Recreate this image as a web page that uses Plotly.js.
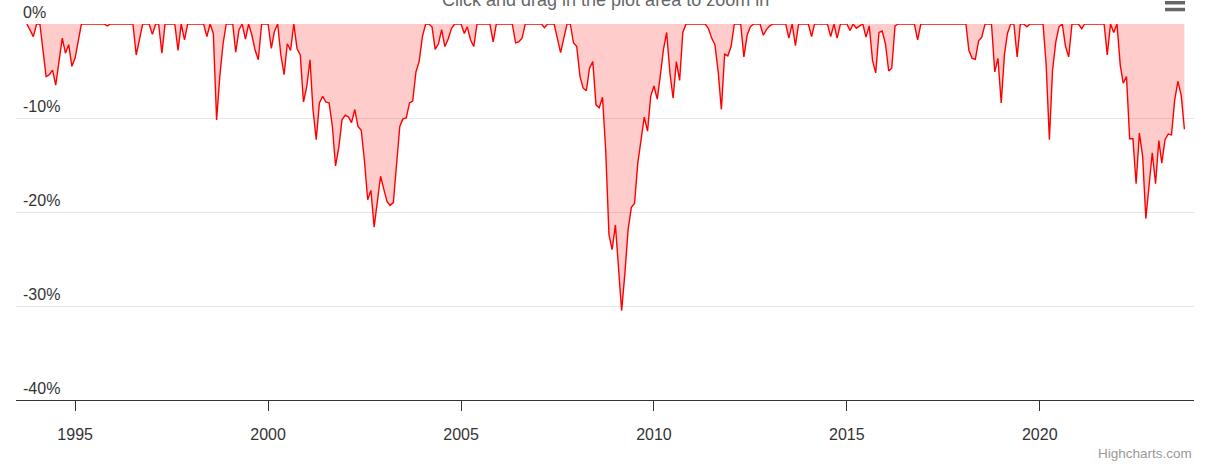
<!DOCTYPE html>
<html>
<head>
<meta charset="utf-8">
<script src="https://cdn.plot.ly/plotly-3.0.1.min.js"></script>
<style>
  html, body { margin: 0; padding: 0; background: #ffffff; }
  #chart { width: 1210px; height: 469px; }
</style>
</head>
<body>
<div id="chart"></div>
<script>
// Month-end drawdown values (percent), vertices
const dates = [
  '1993-10','1993-12','1994-01','1994-02','1994-04','1994-05','1994-06','1994-07','1994-09','1994-10',
  '1994-11','1994-12','1995-01','1995-03','1995-10','1995-11','1995-12','1996-07','1996-08','1996-10',
  '1996-12','1997-01','1997-02','1997-03','1997-04','1997-05','1997-08','1997-09','1997-10','1997-11',
  '1997-12','1998-05','1998-06','1998-07','1998-08','1998-09','1998-10','1998-11','1998-12','1999-02',
  '1999-03','1999-04','1999-05','1999-06','1999-07','1999-08','1999-09','1999-10','1999-11','2000-01',
  '2000-02','2000-03','2000-04','2000-05','2000-06','2000-07','2000-08','2000-09','2000-10','2000-11',
  '2000-12','2001-01','2001-02','2001-03','2001-04','2001-05','2001-06','2001-07','2001-08','2001-09',
  '2001-10','2001-11','2001-12','2002-01','2002-02','2002-03','2002-04','2002-05','2002-06','2002-07',
  '2002-08','2002-09','2002-10','2002-11','2002-12','2003-01','2003-02','2003-03','2003-04','2003-05',
  '2003-06','2003-07','2003-08','2003-09','2003-10','2003-11','2003-12','2004-01','2004-02','2004-03',
  '2004-04','2004-05','2004-06','2004-07','2004-08','2004-09','2004-10','2004-11','2005-01','2005-02',
  '2005-03','2005-04','2005-05','2005-06','2005-10','2005-11','2005-12','2006-05','2006-06','2006-07',
  '2006-08','2006-09','2007-02','2007-03','2007-04','2007-06','2007-07','2007-08','2007-09','2007-10',
  '2007-11','2007-12','2008-01','2008-02','2008-03','2008-04','2008-05','2008-06','2008-07','2008-08',
  '2008-09','2008-10','2008-11','2008-12','2009-01','2009-02','2009-03','2009-04','2009-05','2009-06',
  '2009-07','2009-08','2009-09','2009-10','2009-11','2009-12','2010-01','2010-02','2010-03','2010-04',
  '2010-05','2010-06','2010-07','2010-08','2010-09','2010-10','2010-11','2011-05','2011-06','2011-07',
  '2011-08','2011-09','2011-10','2011-11','2011-12','2012-01','2012-02','2012-04','2012-05','2012-06',
  '2012-07','2012-08','2012-10','2012-11','2012-12','2013-01','2013-02','2013-06','2013-07','2013-08',
  '2013-09','2013-10','2014-01','2014-02','2014-03','2014-07','2014-08','2014-09','2014-10','2014-11',
  '2015-01','2015-02','2015-03','2015-04','2015-05','2015-06','2015-07','2015-08','2015-09','2015-10',
  '2015-11','2015-12','2016-01','2016-02','2016-03','2016-04','2016-05','2016-10','2016-11','2016-12',
  '2018-02','2018-03','2018-04','2018-05','2018-06','2018-07','2018-08','2018-10','2018-11','2018-12',
  '2019-01','2019-02','2019-03','2019-04','2019-05','2019-06','2019-07','2019-08','2019-09','2019-10',
  '2020-02','2020-03','2020-04','2020-05','2020-06','2020-07','2020-08','2020-09','2020-10','2020-11',
  '2021-01','2021-02','2021-03','2021-09','2021-10','2021-11','2021-12','2022-01','2022-02','2022-03',
  '2022-04','2022-05','2022-06','2022-07','2022-08','2022-09','2022-10','2022-11','2022-12','2023-01',
  '2023-02','2023-03','2023-04','2023-05','2023-06','2023-07','2023-08','2023-09','2023-10'
];
const drawdown = [
  0, -1.35, 0, 0, -5.6, -5.4, -4.9, -6.5, -1.5, -3.1,
  -2.2, -4.5, -3.6, 0, 0, -0.2, 0, 0, -3.3, 0,
  0, -1.1, 0, 0, -3.1, 0, 0, -2.8, 0, -1.7,
  0, 0, -1.35, 0, -1.0, -10.2, -5.6, -2.1, 0, 0,
  -3.0, -0.6, 0, -1.6, 0, -1.2, -2.8, -3.8, 0, 0,
  -2.6, -0.8, 0, -3.3, -5.4, -2.1, -2.8, 0, -2.6, -3.3,
  -8.3, -6.7, -3.8, -9.1, -12.3, -8.4, -7.7, -8.3, -8.4, -10.9,
  -15.1, -13.1, -10.2, -9.7, -9.9, -10.5, -9.1, -10.9, -11.3, -14.5,
  -18.7, -17.7, -21.6, -18.7, -16.2, -17.6, -18.9, -19.3, -19.0, -15.0,
  -10.9, -10.1, -10.0, -8.4, -8.2, -5.1, -4.0, -1.35, 0, 0,
  -0.3, -2.7, -2.1, -0.6, -2.4, -1.6, -0.5, 0, 0, -1.0,
  -0.3, -1.7, -2.4, 0, 0, -1.9, 0, 0, -2.0, -1.9,
  -1.5, 0, 0, -0.4, 0, 0, -1.35, -3.05, -1.5, 0,
  0, -2.0, -2.4, -5.6, -6.8, -7.1, -4.7, -4.0, -8.6, -8.9,
  -7.8, -13.4, -22.4, -24.0, -21.4, -26.2, -30.5, -26.5, -21.9, -19.5,
  -19.1, -14.8, -12.5, -9.9, -11.4, -7.7, -6.6, -8.0, -5.6, -2.7,
  -0.9, -5.2, -7.9, -4.0, -6.0, -0.9, 0, 0, -0.5, -1.5,
  -2.2, -5.1, -9.1, -3.2, -3.4, -2.4, 0, 0, -3.5, -1.2,
  -0.3, 0, 0, -1.2, -0.6, -0.2, 0, 0, -1.5, 0,
  -2.3, 0, 0, -1.35, 0, 0, -1.35, 0, -1.5, 0,
  0, -0.7, 0, -0.45, -0.2, 0, -1.4, -0.2, -3.9, -5.2,
  -0.9, -0.75, -2.1, -5.0, -4.7, -0.2, 0, 0, -1.7, 0,
  0, -2.8, -3.65, -3.75, -1.8, -1.4, 0, 0, -5.1, -3.65,
  -8.4, -3.2, -1.0, 0, 0, -3.5, 0, 0, -0.3, 0,
  0, -4.2, -12.3, -4.9, -1.9, -0.3, 0, -2.4, -3.5, 0,
  0, -0.5, 0, 0, -3.3, 0, -0.9, 0, -4.4, -6.3,
  -5.6, -12.2, -12.2, -17.0, -11.6, -14.1, -20.7, -17.3, -13.7, -17.0,
  -12.4, -14.8, -12.3, -11.7, -11.8, -8.1, -6.1, -7.6, -11.2
];

const xTickVals = ['1995-01-01','2000-01-01','2005-01-01','2010-01-01','2015-01-01','2020-01-01'];
const xTickText = ['1995','2000','2005','2010','2015','2020'];
const yTickVals = [0, -10, -20, -30, -40];
const yTickText = ['0%','-10%','-20%','-30%','-40%'];
const subtitleText = 'Click and drag in the plot area to zoom in';
const creditText = 'Highcharts.com';

const FONT = '"Liberation Sans", Arial, Helvetica, sans-serif';

const trace = {
  type: 'scatter',
  mode: 'lines',
  x: dates,
  y: drawdown,
  fill: 'tozeroy',
  fillcolor: 'rgba(255,0,0,0.2)',
  line: { color: '#ff0000', width: 1.4, shape: 'linear' },
  hoverinfo: 'x+y'
};

const layout = {
  width: 1210,
  height: 469,
  margin: { l: 16, r: 16, t: 24, b: 69, pad: 0 },
  paper_bgcolor: '#ffffff',
  plot_bgcolor: '#ffffff',
  showlegend: false,
  font: { family: FONT, color: '#333333', size: 16 },
  xaxis: {
    type: 'date',
    range: ['1993-06-20', '2023-12-31'],
    tickmode: 'array',
    tickvals: xTickVals,
    ticktext: xTickText,
    showgrid: false,
    zeroline: false,
    showline: true,
    linecolor: '#333333',
    linewidth: 1,
    ticks: 'outside',
    ticklen: 10,
    tickwidth: 1,
    tickcolor: '#333333',
    ticklabelstandoff: 10,
    tickfont: { family: FONT, size: 16, color: '#333333' },
    automargin: false,
    fixedrange: true
  },
  yaxis: {
    range: [-40, 0],
    tickmode: 'array',
    tickvals: yTickVals,
    ticktext: yTickText,
    showgrid: true,
    gridcolor: '#e6e6e6',
    gridwidth: 1,
    zeroline: false,
    showline: false,
    ticks: '',
    ticklabelposition: 'inside top',
    ticklabeloverflow: 'allow',
    ticklabelstandoff: 4,
    tickfont: { family: FONT, size: 16, color: '#333333' },
    automargin: false,
    fixedrange: true
  },
  annotations: [
    {
      xref: 'paper', yref: 'paper',
      x: 0.5, y: 1.033,
      xanchor: 'center', yanchor: 'bottom',
      text: subtitleText,
      showarrow: false,
      font: { family: FONT, size: 18, color: '#666666' }
    },
    {
      xref: 'paper', yref: 'paper',
      x: 1.0, y: -0.141,
      xanchor: 'right', yanchor: 'middle',
      text: creditText,
      showarrow: false,
      font: { family: FONT, size: 13.5, color: '#999999' }
    }
  ],
  shapes: [
    { type: 'line', xref: 'paper', yref: 'paper', x0: 0.9754, x1: 0.9924, y0: 1.0566, y1: 1.0566,
      line: { color: '#666666', width: 3.5 } },
    { type: 'line', xref: 'paper', yref: 'paper', x0: 0.9754, x1: 0.9924, y0: 1.0385, y1: 1.0385,
      line: { color: '#666666', width: 3.5 } }
  ]
};

Plotly.newPlot('chart', [trace], layout, { displayModeBar: false, staticPlot: false });
</script>
</body>
</html>
